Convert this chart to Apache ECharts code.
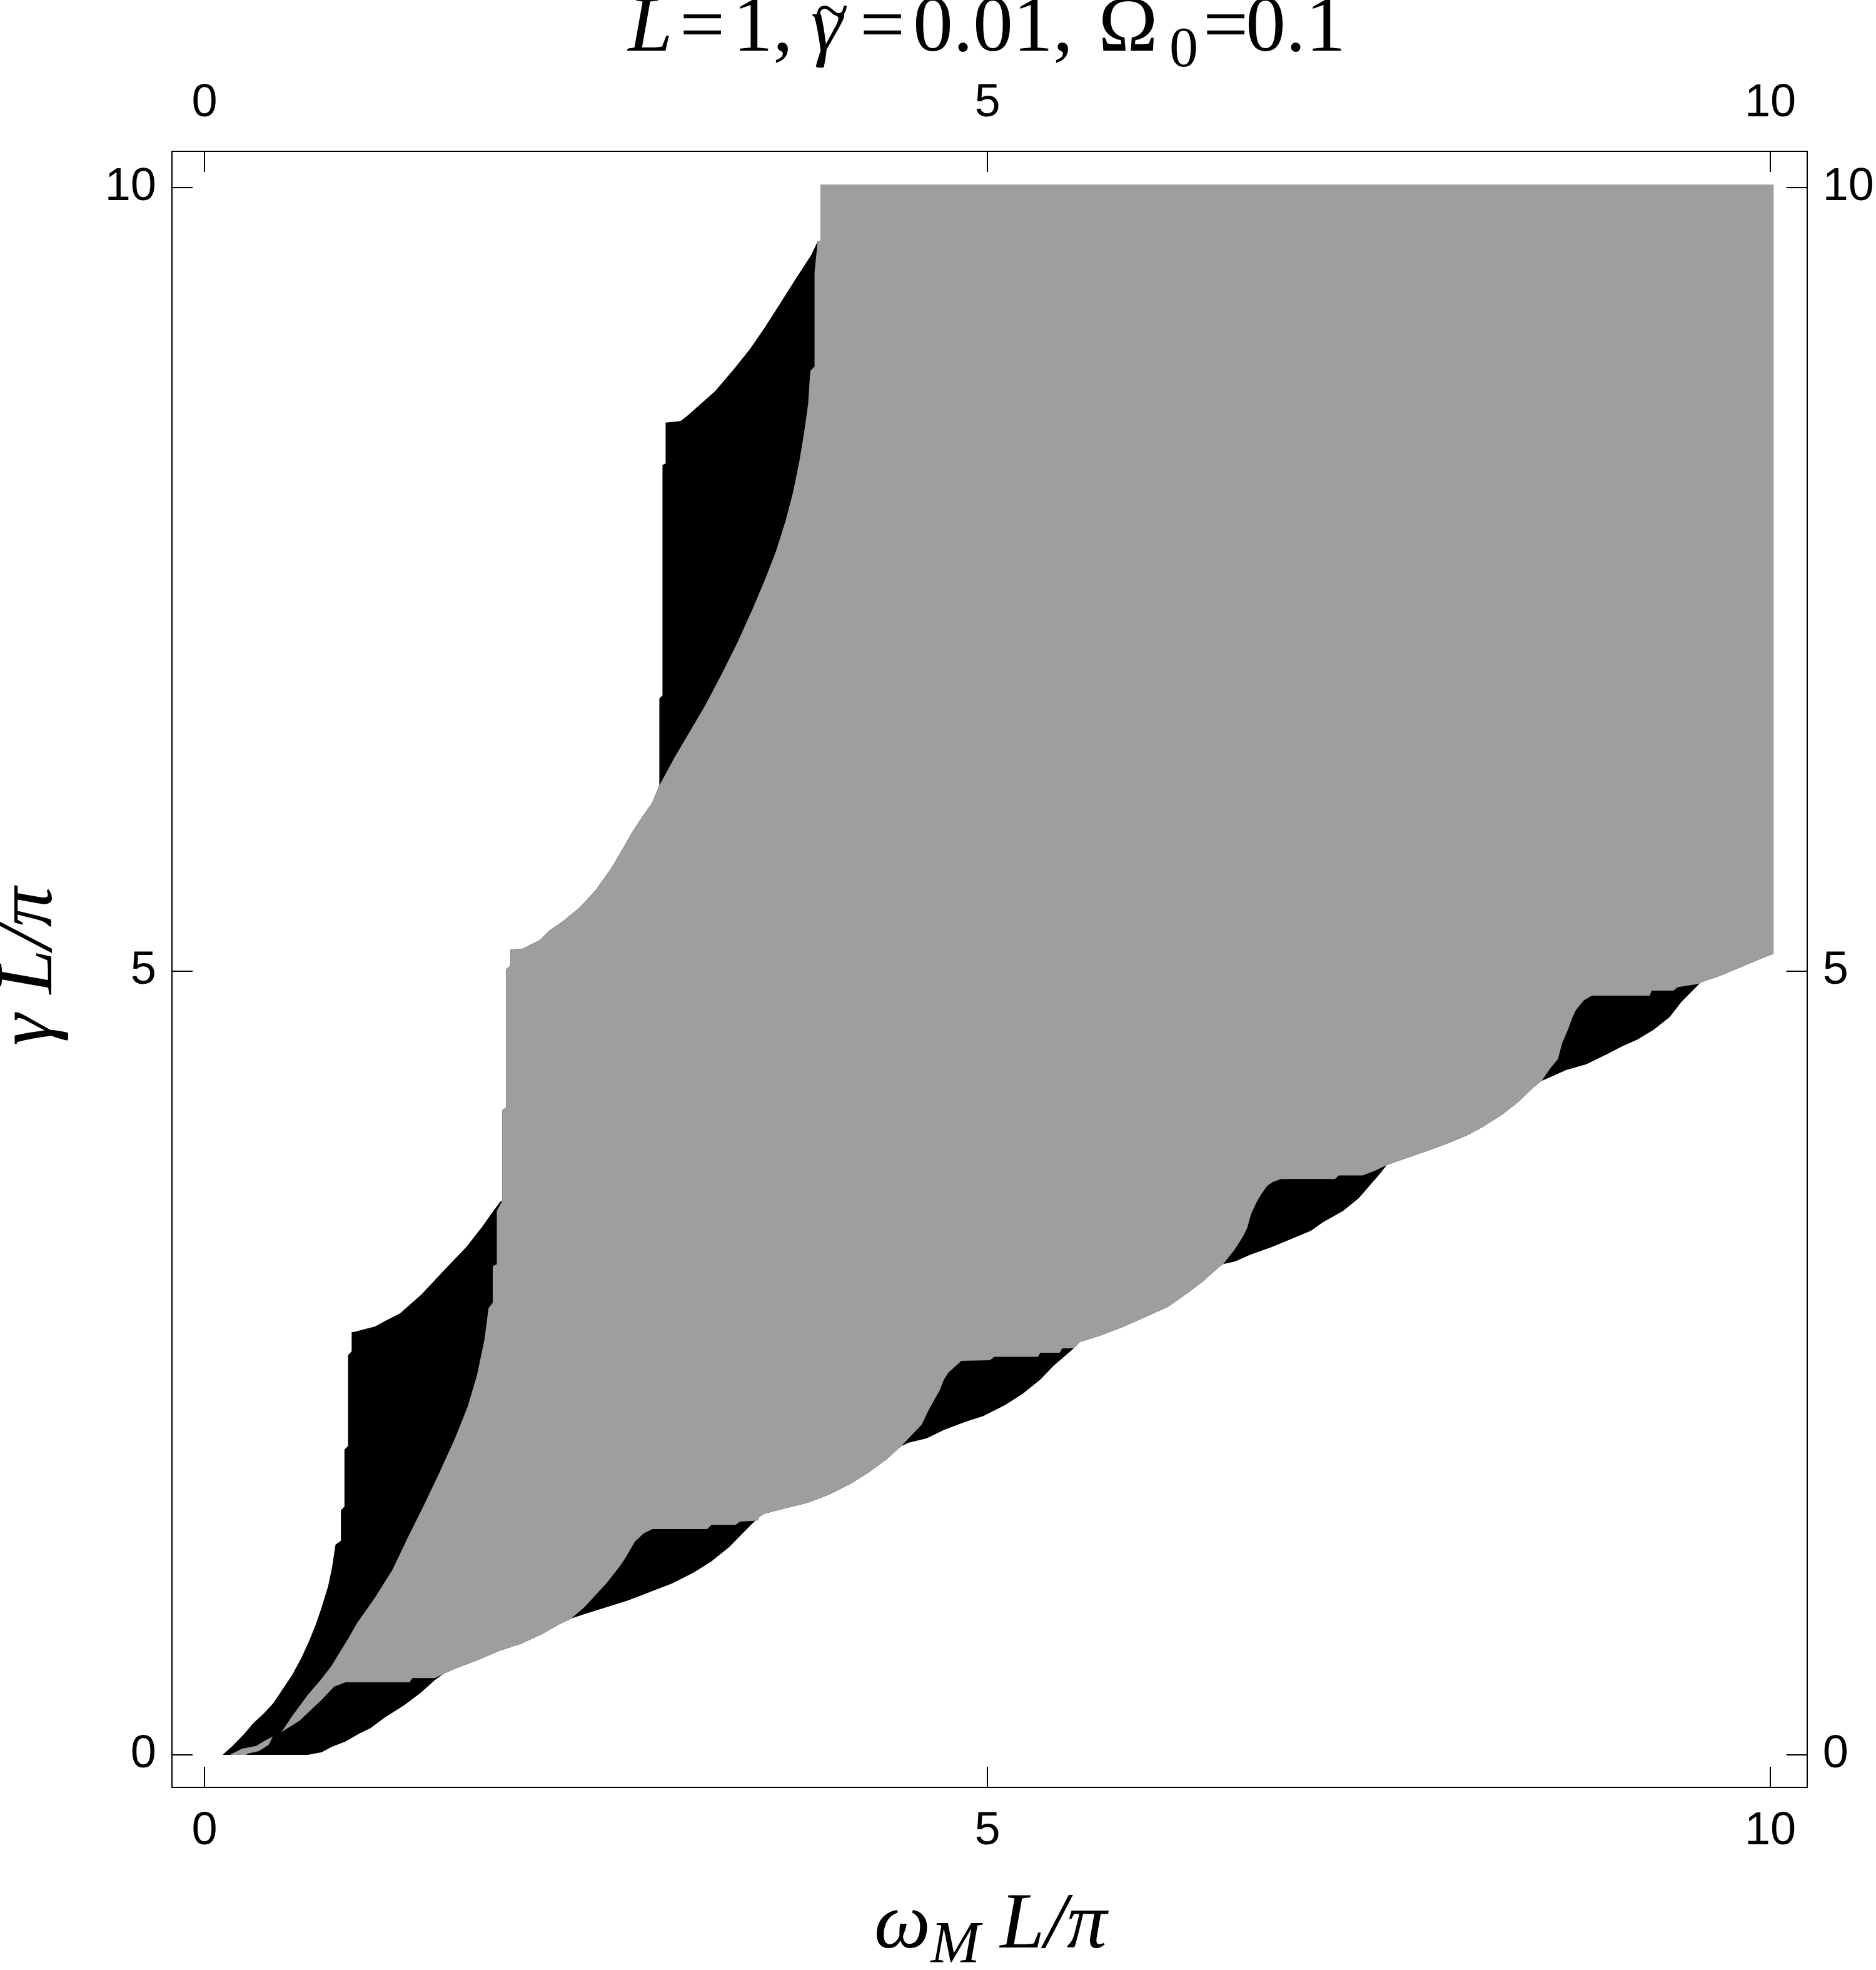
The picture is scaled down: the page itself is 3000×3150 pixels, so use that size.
<!DOCTYPE html>
<html>
<head>
<meta charset="utf-8">
<script src="https://cdn.jsdelivr.net/npm/echarts@6/dist/echarts.min.js"></script>
<style>
  html, body { margin: 0; padding: 0; background: #fff; }
  #chart { width: 3000px; height: 3150px; }
</style>
</head>
<body>
<div id="chart"></div>
<script>

// ticks on all four sides of the frame
var xTicks = [0, 5, 10];
var yTicks = [0, 5, 10];

// left edge of the shaded area (black/white), bottom to top
var outerLeft = [[0.116,0],[0.179,0.057],[0.25,0.13],[0.313,0.203],[0.38,0.265],[0.44,0.33],[0.5,0.42],
  [0.56,0.51],[0.62,0.62],[0.67,0.73],[0.71,0.83],[0.745,0.931],[0.79,1.077],[0.815,1.197],[0.837,1.342],
  [0.871,1.366],[0.871,1.56],[0.894,1.584],[0.894,1.947],[0.917,1.97],[0.917,2.551],[0.94,2.575],[0.94,2.697],
  [0.951,2.697],[1.09,2.733],[1.157,2.77],[1.249,2.817],[1.386,2.938],[1.524,3.085],[1.672,3.24],
  [1.776,3.373],[1.844,3.47],[1.89,3.53]];

// gray/white steps between the two left black pieces
var grayStep = [[1.903,3.535],[1.903,4.114],[1.927,4.132],[1.927,5.013],[1.954,5.037],[1.954,5.138],
  [2.034,5.144],[2.074,5.165],[2.14,5.197],[2.207,5.263],[2.287,5.317],[2.4,5.41],[2.5,5.52],[2.6,5.66],
  [2.686,5.807],[2.725,5.877],[2.779,5.96],[2.858,6.073],[2.905,6.185]];

// upper black piece, white side
var upperBlackLeft = [[2.905,6.74],[2.925,6.76],[2.925,8.23],[2.945,8.24],[2.945,8.5],[3.04,8.51],
  [3.085,8.545],[3.26,8.7],[3.38,8.84],[3.484,8.97],[3.58,9.11],[3.67,9.25],[3.776,9.418],[3.876,9.572],
  [3.916,9.656]];

// upper black piece, gray side
var upperBlackInner = [[2.905,6.185],[3.0,6.36],[3.1,6.53],[3.2,6.7],[3.3,6.89],[3.4,7.09],[3.5,7.31],
  [3.58,7.5],[3.65,7.68],[3.71,7.87],[3.76,8.06],[3.8,8.26],[3.83,8.44],[3.855,8.62],[3.869,8.83],
  [3.896,8.858],[3.896,9.46],[3.916,9.656]];

var topRight = [[3.936,9.66],[3.936,10.02],[10.02,10.02],[10.02,5.112]];

// left gray edge (gray/black), from the thin tip upwards
var grayInnerLeft = [[0.491,0.144],[0.562,0.25],[0.66,0.383],[0.74,0.476],[0.812,0.569],[0.865,0.656],
  [0.918,0.742],[0.974,0.84],[1.089,1.004],[1.2,1.18],[1.3,1.39],[1.4,1.59],[1.5,1.8],[1.6,2.02],
  [1.68,2.22],[1.74,2.42],[1.788,2.65],[1.814,2.85],[1.841,2.885],[1.841,3.118],[1.867,3.13],[1.867,3.473]];

// lower black pockets: white side
var pocketOuter = [
  [[0.66,0],[0.749,0.017],[0.812,0.051],[0.9,0.085],[0.99,0.137],[1.061,0.171],[1.15,0.237],[1.275,0.316],
   [1.381,0.396],[1.47,0.476],[1.524,0.516]],
  [[2.342,0.87],[2.426,0.898],[2.566,0.942],[2.706,0.986],[2.846,1.039],[2.986,1.093],[3.126,1.164],
   [3.238,1.235],[3.35,1.325],[3.49,1.467],[3.546,1.52]],
  [[4.45,1.97],[4.498,1.992],[4.611,2.019],[4.722,2.073],[4.862,2.126],[4.974,2.162],[5.114,2.233],
   [5.226,2.304],[5.338,2.394],[5.422,2.482],[5.547,2.59]],
  [[6.506,3.131],[6.582,3.148],[6.684,3.193],[6.811,3.238],[6.939,3.291],[7.066,3.344],[7.142,3.398],
   [7.27,3.47],[7.37,3.55],[7.5,3.7],[7.55,3.763]],
  [[8.54,4.3],[8.618,4.334],[8.695,4.369],[8.822,4.405],[8.95,4.467],[9.052,4.52],[9.153,4.565],
   [9.255,4.627],[9.357,4.707],[9.433,4.805],[9.547,4.92]]
];

// lower black pockets: gray side
var pocketInner = [
  [[0.509,0.157],[0.607,0.217],[0.74,0.343],[0.829,0.436],[0.9,0.463],[1.31,0.463],[1.328,0.49],
   [1.47,0.49],[1.524,0.516]],
  [[2.342,0.87],[2.426,0.942],[2.566,1.093],[2.65,1.2],[2.692,1.262],[2.748,1.36],[2.804,1.413],
   [2.86,1.44],[3.21,1.44],[3.238,1.467],[3.392,1.467],[3.42,1.488],[3.532,1.494],[3.546,1.52]],
  [[4.45,1.97],[4.581,2.108],[4.624,2.199],[4.652,2.25],[4.694,2.322],[4.722,2.394],[4.75,2.438],
   [4.834,2.514],[5.016,2.518],[5.044,2.54],[5.323,2.54],[5.338,2.566],[5.463,2.566],[5.477,2.594],
   [5.547,2.594]],
  [[6.506,3.131],[6.582,3.228],[6.633,3.309],[6.659,3.362],[6.684,3.452],[6.722,3.532],[6.748,3.576],
   [6.786,3.63],[6.824,3.656],[6.875,3.674],[7.219,3.674],[7.244,3.697],[7.397,3.697],[7.474,3.727],
   [7.55,3.763]],
  [[8.54,4.3],[8.593,4.378],[8.644,4.44],[8.669,4.538],[8.707,4.627],[8.733,4.698],[8.758,4.752],
   [8.809,4.814],[8.86,4.844],[9.229,4.844],[9.242,4.876],[9.382,4.876],[9.407,4.898],[9.547,4.92]]
];

// gray/white lower edges between the pockets
var grayWhite = [
  [[1.524,0.516],[1.6,0.55],[1.74,0.603],[1.88,0.662],[2.023,0.709],[2.165,0.775],[2.26,0.83],[2.342,0.87]],
  [[3.546,1.52],[3.574,1.538],[3.714,1.574],[3.854,1.609],[3.994,1.663],[4.134,1.734],[4.245,1.805],
   [4.357,1.886],[4.45,1.97]],
  [[5.547,2.59],[5.59,2.634],[5.73,2.678],[5.87,2.732],[6.01,2.794],[6.15,2.857],[6.29,2.955],
   [6.38,3.024],[6.48,3.113],[6.506,3.131]],
  [[7.55,3.763],[7.677,3.808],[7.804,3.852],[7.93,3.897],[8.058,3.95],[8.16,4.004],[8.286,4.084],
   [8.388,4.164],[8.49,4.262],[8.54,4.3]],
  [[9.547,4.92],[9.56,4.93],[9.688,4.974],[9.815,5.028],[9.942,5.081],[10.02,5.112]]
];

// small gray fleck at the bottom left
var smallGray = [[0.161,0],[0.241,0.04],[0.33,0.057],[0.384,0.09],[0.437,0.117],[0.41,0.064],
  [0.348,0.024],[0.277,0.008],[0.267,0]];


var chart = echarts.init(document.getElementById('chart'));

function joinEdges(edges, gaps) {
    var out = [];
    for (var i = 0; i < edges.length; i++) {
        out = out.concat(edges[i], gaps[i]);
    }
    return out;
}

var lowerWhite = joinEdges(pocketOuter, grayWhite);
var lowerGray = joinEdges(pocketInner, grayWhite);

var shadedOutline = [].concat(outerLeft, grayStep, upperBlackLeft, topRight, lowerWhite.slice().reverse());
var grayOutline = [].concat(grayInnerLeft, grayStep, upperBlackInner, topRight, lowerGray.slice().reverse());

function polygonSeries(points, color, z) {
    return {
        type: 'custom',
        coordinateSystem: 'cartesian2d',
        xAxisIndex: 0,
        yAxisIndex: 0,
        clip: true,
        silent: true,
        z: z,
        data: points,
        renderItem: function (params, api) {
            if (params.dataIndex !== 0) return null;
            return {
                type: 'polygon',
                shape: { points: points.map(function (p) { return api.coord(p); }) },
                style: { fill: color, stroke: null }
            };
        }
    };
}

function frameAxis(position, ticks, min, max, margin) {
    return {
        type: 'value',
        position: position,
        min: min,
        max: max,
        axisLine: { show: true, onZero: false, lineStyle: { color: '#000', width: 2 } },
        axisTick: { show: true, inside: true, length: 33, customValues: ticks, lineStyle: { color: '#000', width: 2 } },
        axisLabel: {
            show: true,
            customValues: ticks,
            margin: margin,
            fontSize: 74,
            fontFamily: 'Liberation Sans',
            color: '#000'
        },
        splitLine: { show: false }
    };
}

var serif = 'Liberation Serif';

// title pieces, placed one by one (the tilde sits over the gamma)
function titleText(text, cx, cy, size, italic) {
    return {
        type: 'text', x: cx, y: cy, z: 10,
        style: {
            text: text, align: 'center', verticalAlign: 'middle', fill: '#000',
            fontFamily: serif, fontSize: size, fontStyle: italic ? 'italic' : 'normal'
        }
    };
}

var titleParts = [
    titleText('L', 1040, 47, 128, true),
    titleText('=', 1123, 47, 128, false),
    titleText('1,', 1220, 47, 128, false),
    titleText('\u03b3', 1322, 47, 128, true),
    titleText('~', 1330, 24, 100, false),
    titleText('=', 1411, 47, 128, false),
    titleText('0.01,', 1588, 47, 128, false),
    titleText('\u03a9', 1804, 47, 128, false),
    titleText('0', 1893, 82, 92, false),
    titleText('=', 1960, 47, 128, false),
    titleText('0.1', 2072, 47, 128, false)
];

option = {
    backgroundColor: '#fff',
    animation: false,
    grid: { left: 275, top: 242, width: 2617, height: 2616 },
    xAxis: [
        frameAxis('bottom', xTicks, -0.2075, 10.234, 34),
        frameAxis('top', xTicks, -0.2075, 10.234, 39)
    ],
    yAxis: [
        frameAxis('left', yTicks, -0.2075, 10.231, 25),
        frameAxis('right', yTicks, -0.2075, 10.231, 25)
    ],
    series: [
        polygonSeries(shadedOutline, '#000000', 1),
        polygonSeries(grayOutline, '#9e9e9e', 2),
        polygonSeries(smallGray, '#9e9e9e', 3)
    ],
    graphic: titleParts.concat([
        {
            type: 'text', x: 1584, y: 3080, z: 10,
            style: {
                text: '{i|\u03c9}{s|M}{i| L/\u03c0}',
                align: 'center', verticalAlign: 'middle', fill: '#000',
                rich: {
                    i: { fontFamily: serif, fontSize: 128, fontStyle: 'italic' },
                    s: { fontFamily: serif, fontSize: 95, fontStyle: 'italic', padding: [66, 0, 0, 0] }
                }
            }
        },
        {
            type: 'text', x: 48, y: 1545, z: 10, rotation: Math.PI / 2,
            style: {
                text: '\u03b3 L/\u03c0',
                align: 'center', verticalAlign: 'middle', fill: '#000',
                fontFamily: serif, fontSize: 128, fontStyle: 'italic'
            }
        }
    ])
};

chart.setOption(option);

</script>
</body>
</html>
